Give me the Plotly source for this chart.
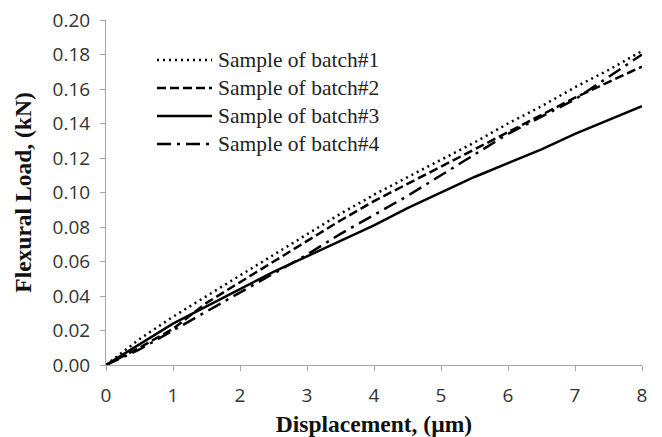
import plotly.graph_objects as go

# ---- data ----
displacement = [0, 0.5, 1, 1.5, 2, 2.5, 3, 3.5, 4, 4.5, 5, 5.5, 6, 6.5, 7, 7.5, 8]
batch1 = [0, 0.015, 0.028, 0.040, 0.052, 0.064, 0.076, 0.0877, 0.0987, 0.109, 0.119, 0.129, 0.140, 0.150, 0.161, 0.171, 0.182]
batch2 = [0, 0.010, 0.021, 0.036, 0.048, 0.060, 0.0717, 0.0838, 0.095, 0.105, 0.115, 0.125, 0.135, 0.145, 0.155, 0.164, 0.173]
batch3 = [0, 0.012, 0.024, 0.034, 0.044, 0.054, 0.063, 0.072, 0.081, 0.091, 0.100, 0.109, 0.117, 0.125, 0.134, 0.142, 0.150]
batch4 = [0, 0.009, 0.020, 0.031, 0.042, 0.053, 0.064, 0.076, 0.087, 0.098, 0.110, 0.122, 0.134, 0.144, 0.154, 0.167, 0.180]

series_names = ["Sample of batch#1", "Sample of batch#2", "Sample of batch#3", "Sample of batch#4"]
series_values = [batch1, batch2, batch3, batch4]
dash_styles = ["2px,4px", "9px,4px", "solid", "14px,6px,3px,6px"]

x_ticks = [0, 1, 2, 3, 4, 5, 6, 7, 8]
y_ticks = [0.00, 0.02, 0.04, 0.06, 0.08, 0.10, 0.12, 0.14, 0.16, 0.18, 0.20]

W, H = 662, 437
ML, MR, MT, MB = 106, 20, 20, 72

SERIF = "Liberation Serif, Times New Roman, serif"

fig = go.Figure()
for name, vals, dash in zip(series_names, series_values, dash_styles):
    fig.add_trace(go.Scatter(
        x=displacement, y=vals, mode="lines", name=name,
        line=dict(color="black", width=2.5, dash=dash),
        showlegend=False,
    ))

# custom legend (longer line samples as in reference)
pw = W - ML - MR
ph = H - MT - MB
leg_rows_px = [60, 88, 116, 144]
for name, dash, ypx in zip(series_names, dash_styles, leg_rows_px):
    yp = 1 - (ypx - MT) / ph
    x0 = (157 - ML) / pw
    x1 = (212 - ML) / pw
    fig.add_shape(type="line", xref="paper", yref="paper", x0=x0, x1=x1, y0=yp, y1=yp,
                  line=dict(color="black", width=2.5, dash=dash))
    fig.add_annotation(xref="paper", yref="paper", x=(216 - ML) / pw, y=yp,
                       xanchor="left", yanchor="middle", showarrow=False,
                       text=name, font=dict(family=SERIF, size=21.5, color="#222"))

axis_common = dict(
    showline=True, linecolor="#a6a6a6", linewidth=1,
    ticks="outside", tickcolor="#a6a6a6", ticklen=5, tickwidth=1,
    showgrid=False, zeroline=False, automargin=False,
    tickfont=dict(family="Open Sans", size=19, color="#333"),
)

fig.update_layout(
    width=W, height=H,
    margin=dict(l=ML, r=MR, t=MT, b=MB),
    paper_bgcolor="white", plot_bgcolor="white",
    xaxis=dict(range=[0, 8], tickvals=x_ticks, ticktext=[str(v) for v in x_ticks],
               title=dict(text="<b>Displacement, (µm)</b>", standoff=16,
                          font=dict(family=SERIF, size=23.5, color="#111")),
               ticklabelstandoff=8, **axis_common),
    yaxis=dict(range=[0, 0.2], tickvals=y_ticks, ticktext=[f"{v:.2f}" for v in y_ticks],
               title=dict(text="<b>Flexural Load, (kN)</b>", standoff=14,
                          font=dict(family=SERIF, size=23.5, color="#111")),
               ticklabelstandoff=6, **axis_common),
)

fig.write_html("out.html")
